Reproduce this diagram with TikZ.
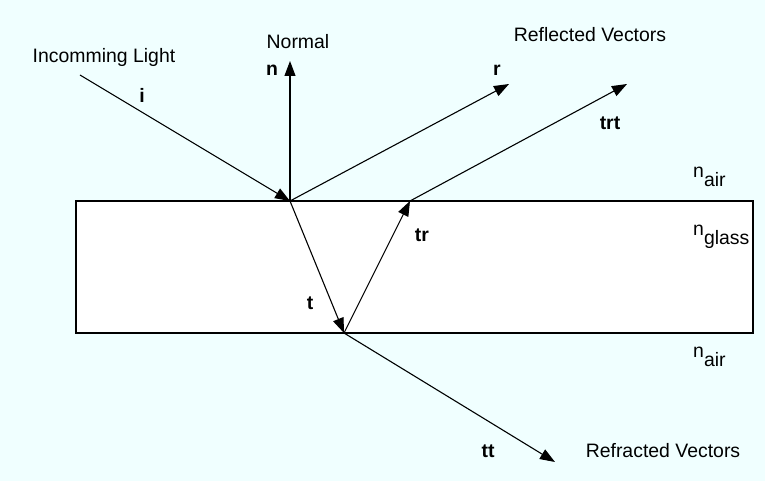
\documentclass[tikz,border=0pt]{standalone}
\usepackage{fontspec}
\setmainfont{Liberation Sans}
\usepackage{tikz}
\usetikzlibrary{positioning,calc,arrows.meta}
\definecolor{skycyan}{HTML}{F0FFFF}
\tikzstyle{vec} = [-{Triangle[length=15bp,width=11bp]}, line width=1.1bp]
\tikzstyle{txt} = [inner sep=0pt, font=\fontsize{19.5}{23}\selectfont]
\tikzstyle{lbl} = [txt, font=\fontsize{19.5}{23}\selectfont\bfseries]
\newcommand{\idx}[1]{n\raisebox{-9bp}{#1}}

\begin{document}
\begin{tikzpicture}[x=1bp, y=-1bp]
    % Background
    \fill[skycyan] (0,0) rectangle (765,481);
    \useasboundingbox (0,0) rectangle (765,481);
    % Glass slab
    \draw[fill=white, line width=1.1bp] (76,201) rectangle (753,333);
    % Points
    \coordinate (src) at (80,75);
    \coordinate (hit) at (290,201);
    \coordinate (ntip) at (290,61);
    \coordinate (rtip) at (509,84);
    \coordinate (exit) at (344,333);
    \coordinate (back) at (410,201);
    \coordinate (trttip) at (627,84);
    \coordinate (tttip) at (555,462);
    % Vectors
    \draw[vec] (src) -- (hit);
    \draw[vec] (hit) -- (ntip);
    \draw[vec] (hit) -- (rtip);
    \draw[vec] (hit) -- (exit);
    \draw[vec] (exit) -- (back);
    \draw[vec] (back) -- (trttip);
    \draw[vec] (exit) -- (tttip);
    % Labels
    \node[txt] (incoming) at (104,57) {Incomming Light};
    \node[txt] (normal) at (298,42) {Normal};
    \node[txt] (reflected) at (590,35) {Reflected Vectors};
    \node[txt] (refracted) at (663,451) {Refracted Vectors};
    \node[lbl] (ilbl) at (142,95) {i};
    \node[lbl] (nlbl) at (272,70) {n};
    \node[lbl] (rlbl) at (497,70) {r};
    \node[lbl] (trtlbl) at (610,123) {trt};
    \node[lbl] (tlbl) at (310,303) {t};
    \node[lbl] (trlbl) at (422,235) {tr};
    \node[lbl] (ttlbl) at (488,451) {tt};
    \node[txt, anchor=base west] (airtop) at (693,178) {\idx{air}};
    \node[txt, anchor=base west] (glass) at (693,236) {\idx{glass}};
    \node[txt, anchor=base west] (airbot) at (693,357) {\idx{air}};
\end{tikzpicture}
\end{document}
